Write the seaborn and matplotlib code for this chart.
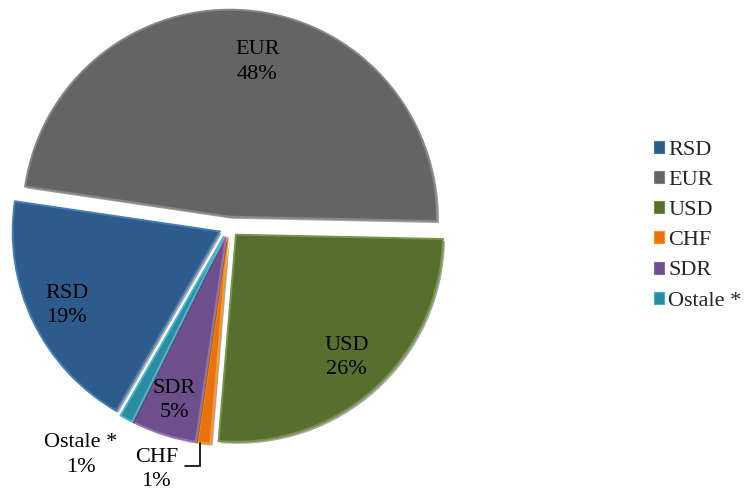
import matplotlib
matplotlib.use("Agg")
import matplotlib.pyplot as plt
import matplotlib.patheffects as pe
import numpy as np
import seaborn as sns

# Currency structure (share in %)
currencies = ["RSD", "EUR", "USD", "CHF", "SDR", "Ostale *"]
shares = [19, 48, 26, 1, 5, 1]
colors = ["#2C5B8C", "#646464", "#566F2F", "#E8720E", "#6C4F8B", "#2B8BA0"]

# label placement: radius along the slice bisector plus a small nudge
label_radius = [0.87, 0.80, 0.85, 1.18, 0.88, 1.25]
label_nudge = [(0, 0), (0.07, 0), (0, 0), (-0.215, 0), (0, 0), (-0.125, 0)]

sns.set_theme(style="white")
plt.rcParams["font.family"] = ["Liberation Serif", "DejaVu Serif"]

W, H = 748, 492
fig = plt.figure(figsize=(W / 100, H / 100), dpi=100)
ax = fig.add_axes([0, 0, 1, 1])

R = 207.0          # pie radius in pixels
cx, cy = 229.0, H - 227.0

wedges, _ = ax.pie(
    shares,
    colors=colors,
    startangle=240,
    counterclock=False,
    explode=[0.05] * len(shares),
    radius=1.0,
)

# soft bevel: a lighter rim and a dark outer shadow
for w, c in zip(wedges, colors):
    rgb = np.array(matplotlib.colors.to_rgb(c))
    rim = np.clip(rgb * 1.2 + 0.06, 0, 1)
    w.set_edgecolor(rim)
    w.set_linewidth(1.4)
    w.set_path_effects([
        pe.SimplePatchShadow(offset=(1.5, -1.5), shadow_rgbFace="#000000", alpha=0.35),
        pe.Normal(),
    ])

ax.set_xlim(-cx / R, (W - cx) / R)
ax.set_ylim(-cy / R, (H - cy) / R)
ax.set_aspect("equal")
ax.axis("off")

FS = 16

# value labels
for w, name, val, r, (dx, dy) in zip(wedges, currencies, shares, label_radius, label_nudge):
    mid = np.deg2rad((w.theta1 + w.theta2) / 2)
    x, y = r * np.cos(mid) + dx, r * np.sin(mid) + dy
    ax.text(x, y, f"{name}\n{val}%", ha="center", va="center",
            fontsize=FS, color="black", linespacing=1.38)

# leader line for the CHF slice
chf = wedges[currencies.index("CHF")]
mid = np.deg2rad((chf.theta1 + chf.theta2) / 2)
cxw, cyw = chf.center
tip = (cxw + 1.0 * np.cos(mid) - 0.02, cyw + 1.0 * np.sin(mid))
ax.plot([tip[0], tip[0], tip[0] - 0.07], [tip[1], tip[1] - 0.11, tip[1] - 0.11],
        color="black", lw=1.2, solid_joinstyle="miter")

# legend
handles = [plt.Rectangle((0, 0), 1, 1, facecolor=c,
                         edgecolor=np.clip(np.array(matplotlib.colors.to_rgb(c)) * 1.3, 0, 1), lw=0.8)
           for c in colors]
fig.legend(handles, currencies, loc="upper left",
           bbox_to_anchor=(654 / W, 1 - 141 / H), frameon=False,
           fontsize=FS, handlelength=0.45, handleheight=0.45,
           handletextpad=0.2, labelspacing=0.5, borderaxespad=0, borderpad=0)

fig.savefig("out.png", dpi=100)
